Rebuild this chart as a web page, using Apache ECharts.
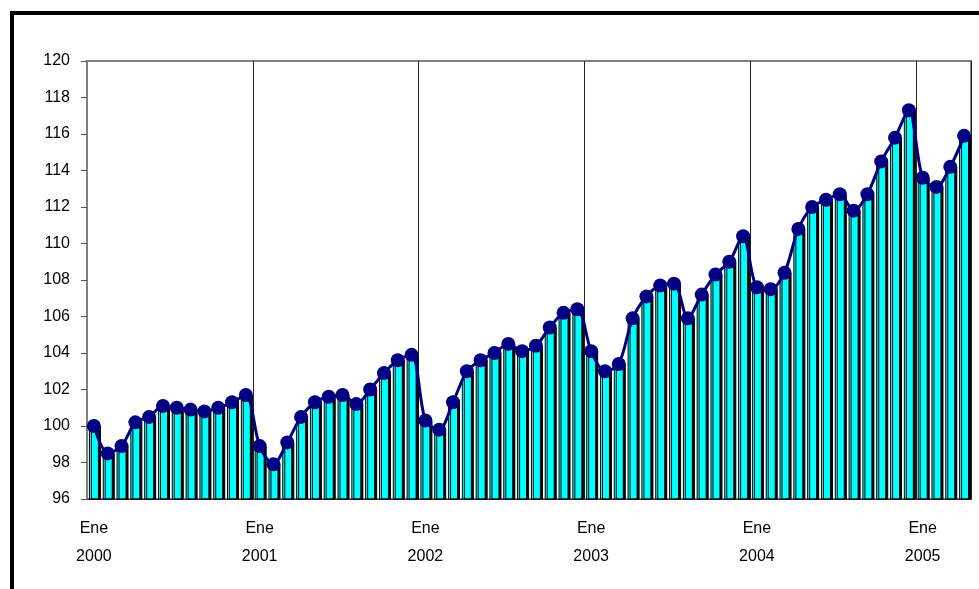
<!DOCTYPE html>
<html>
<head>
<meta charset="utf-8">
<script src="https://cdn.jsdelivr.net/npm/echarts@6/dist/echarts.min.js"></script>
<style>
html,body{margin:0;padding:0;background:#fff;overflow:hidden;}
#chart{width:979px;height:589px;}
</style>
</head>
<body>
<div id="chart"></div>
<script>
// Month names (Spanish) and years
const monthNames = ["Ene","Feb","Mar","Abr","May","Jun","Jul","Ago","Sep","Oct","Nov","Dic"];
const years = [2000, 2001, 2002, 2003, 2004, 2005];

// Index values, monthly Jan 2000 – Apr 2005
const values2000 = [100.0, 98.5, 98.9, 100.2, 100.5, 101.1, 101.0, 100.9, 100.8, 101.0, 101.3, 101.7];
const values2001 = [98.9, 97.9, 99.1, 100.5, 101.3, 101.6, 101.7, 101.2, 102.0, 102.9, 103.6, 103.9];
const values2002 = [100.3, 99.8, 101.3, 103.0, 103.6, 104.0, 104.5, 104.1, 104.4, 105.4, 106.2, 106.4];
const values2003 = [104.1, 103.0, 103.4, 105.9, 107.1, 107.7, 107.8, 105.9, 107.2, 108.3, 109.0, 110.4];
const values2004 = [107.6, 107.5, 108.4, 110.8, 112.0, 112.4, 112.7, 111.8, 112.7, 114.5, 115.8, 117.3];
const values2005 = [113.6, 113.1, 114.2, 115.9];

const values = [].concat(values2000, values2001, values2002, values2003, values2004, values2005);

const categories = [];
for (let i = 0; i < values.length; i++) {
  categories.push(monthNames[i % 12] + " " + years[Math.floor(i / 12)]);
}

// Y axis ticks
const yMin = 96, yMax = 120, yStep = 2;

const chart = echarts.init(document.getElementById('chart'), null, {renderer: 'canvas'});
const font = '"Liberation Sans", Arial, sans-serif';

chart.setOption({
  animation: false,
  backgroundColor: '#ffffff',
  graphic: [{
    type: 'rect',
    shape: {x: 12, y: 13, width: 1100, height: 700},
    style: {fill: 'none', stroke: '#000', lineWidth: 4},
    silent: true,
    z: 100
  }],
  grid: {
    left: 87, right: 8, top: 61, bottom: 90,
    containLabel: false,
    show: true,
    borderColor: '#808080',
    borderWidth: 2,
    backgroundColor: '#ffffff'
  },
  xAxis: {
    type: 'category',
    data: categories,
    boundaryGap: true,
    axisLine: {show: true, lineStyle: {color: '#333', width: 1}},
    axisTick: {show: false},
    axisLabel: {
      interval: (i) => i % 12 === 0,
      formatter: (v) => v.replace(' ', '\n'),
      color: '#000',
      fontFamily: font,
      fontSize: 16,
      lineHeight: 28,
      margin: 16
    },
    splitLine: {
      show: true,
      interval: (i) => i % 12 === 0 && i > 0,
      lineStyle: {color: '#222', width: 1}
    }
  },
  yAxis: {
    type: 'value',
    min: yMin, max: yMax, interval: yStep,
    axisLine: {show: true, lineStyle: {color: '#808080', width: 2}},
    axisTick: {show: true, inside: false, length: 6, lineStyle: {color: '#555', width: 1}},
    axisLabel: {color: '#000', fontFamily: font, fontSize: 16, margin: 17},
    splitLine: {show: false}
  },
  series: [
    {
      type: 'bar',
      data: values,
      barWidth: 10,
      itemStyle: {
        color: '#00FFFF',
        borderColor: '#000',
        borderWidth: 1,
        shadowColor: '#000',
        shadowOffsetX: 2,
        shadowOffsetY: 0,
        shadowBlur: 0
      },
      z: 2
    },
    {
      type: 'line',
      data: values,
      smooth: 0.3,
      showAllSymbol: true,
      symbol: 'circle',
      symbolSize: 14,
      lineStyle: {color: '#000080', width: 3},
      itemStyle: {color: '#000080'},
      z: 3
    }
  ]
});
</script>
</body>
</html>
